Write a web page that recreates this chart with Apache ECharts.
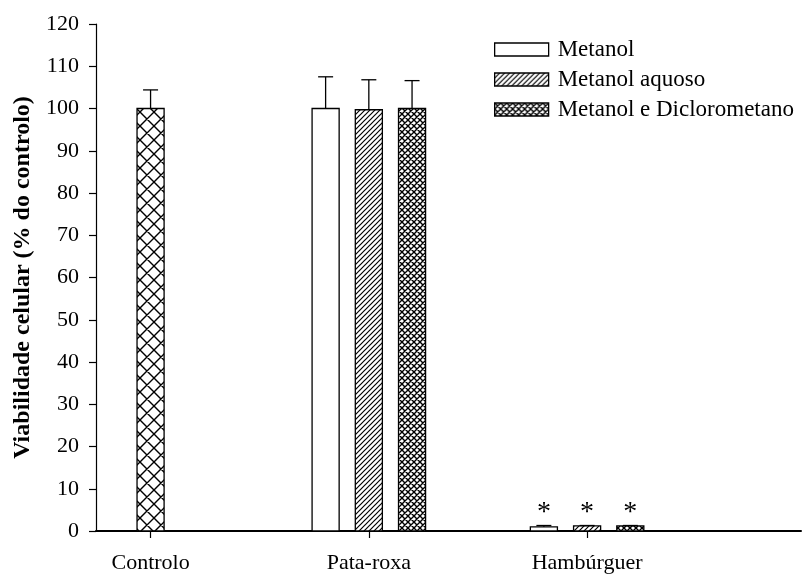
<!DOCTYPE html>
<html>
<head>
<meta charset="utf-8">
<script src="https://cdn.jsdelivr.net/npm/echarts@6/dist/echarts.min.js"></script>
<style>
  html, body { margin: 0; padding: 0; background: #fff; }
  #chart { width: 803px; height: 576px; }
</style>
</head>
<body>
<div id="chart"></div>
<script>
// Cell viability data (% of control)
const categories = ['Controlo', 'Pata-roxa', 'Hambúrguer'];
const seriesNames = ['Metanol', 'Metanol aquoso', 'Metanol e Diclorometano'];

const controlo = [100, null, null];
const controloErr = [4.4, null, null];

const metanol = [null, 100, 1.0];
const metanolErr = [null, 7.5, 0.3];

const metanolAquoso = [null, 99.7, 1.2];
const metanolAquosoErr = [null, 7.1, 0.1];

const metanolDicloro = [null, 100, 1.2];
const metanolDicloroErr = [null, 6.6, 0.1];

const significance = ['', '', '*'];

const yTicks = { min: 0, max: 120, interval: 10 };

const FONT = '"Liberation Serif", "Times New Roman", serif';

// Hatch fills drawn on small tiles
function tile(size, lineWidth, draw) {
  const c = document.createElement('canvas');
  c.width = size; c.height = size;
  const g = c.getContext('2d');
  g.fillStyle = '#fff';
  g.fillRect(0, 0, size, size);
  g.strokeStyle = '#000';
  g.lineWidth = lineWidth;
  g.beginPath();
  draw(g, size);
  g.stroke();
  return { image: c, repeat: 'repeat' };
}
function forward(g, s) {
  // lines x + y = 0, s, 2s
  g.moveTo(-1, 1); g.lineTo(1, -1);
  g.moveTo(0, s); g.lineTo(s, 0);
  g.moveTo(s - 1, s + 1); g.lineTo(s + 1, s - 1);
}
function backward(g, s) {
  g.moveTo(-1, -1); g.lineTo(s + 1, s + 1);
  g.moveTo(s - 1, -1); g.lineTo(s + 1, 1);
  g.moveTo(-1, s - 1); g.lineTo(1, s + 1);
}
const fillPlain = '#ffffff';
const fillDiag = tile(5, 1.2, forward);
const fillCrossFine = tile(6, 1.4, (g, s) => { forward(g, s); backward(g, s); });
const fillCrossWide = tile(14, 1.4, (g, s) => { forward(g, s); backward(g, s); });

function rows(values, errs) {
  return values
    .map((v, i) => (v == null ? null : [i, v, errs[i] || 0, significance[i]]))
    .filter(Boolean);
}

function makeRender(slot, fill) {
  return function (params, api) {
    const cat = api.value(0);
    const val = api.value(1);
    const err = api.value(2);
    const mark = api.value(3);
    const unit = api.size([1, 0])[0];
    const base = api.coord([cat, 0]);
    const cx = base[0] + slot * 0.198 * unit;
    const w = 0.124 * unit;
    const top = api.coord([cat, val])[1];
    const errTop = api.coord([cat, val + err])[1];
    const children = [
      {
        type: 'rect',
        shape: { x: cx - w / 2, y: top, width: w, height: base[1] - top },
        style: { fill: fill, stroke: '#000', lineWidth: 1.3 }
      }
    ];
    if (err > 0) {
      children.push({
        type: 'line',
        shape: { x1: cx, y1: top, x2: cx, y2: errTop },
        style: { stroke: '#000', lineWidth: 1.3 }
      });
      children.push({
        type: 'line',
        shape: { x1: cx - 7.5, y1: errTop, x2: cx + 7.5, y2: errTop },
        style: { stroke: '#000', lineWidth: 1.3 }
      });
    }
    if (mark) {
      children.push({
        type: 'text',
        style: {
          text: String(mark),
          x: cx,
          y: errTop + 1,
          align: 'center',
          verticalAlign: 'bottom',
          textAlign: 'center',
          textVerticalAlign: 'bottom',
          font: '28px ' + FONT,
          fill: '#000'
        }
      });
    }
    return { type: 'group', children: children };
  };
}

function barSeries(name, slot, fill, values, errs) {
  return {
    name: name,
    type: 'custom',
    renderItem: makeRender(slot, fill),
    itemStyle: { color: fill, borderColor: '#000', borderWidth: 1.3 },
    encode: { x: 0, y: 1 },
    data: rows(values, errs),
    silent: true,
    animation: false
  };
}

const chart = echarts.init(document.getElementById('chart'), null, { renderer: 'canvas' });

chart.setOption({
  backgroundColor: '#fff',
  animation: false,
  grid: { left: 96, right: 2, top: 24, bottom: 45, containLabel: false },
  legend: {
    orient: 'vertical',
    left: 489,
    top: 32,
    icon: 'rect',
    itemWidth: 54,
    itemHeight: 13,
    itemGap: 5,
    selectedMode: false,
    textStyle: { fontFamily: FONT, fontSize: 23, color: '#000', lineHeight: 25, padding: [0, 0, 0, 4] },
    data: [
      { name: seriesNames[0], itemStyle: { color: fillPlain, borderColor: '#000', borderWidth: 1.3 } },
      { name: seriesNames[1], itemStyle: { color: fillDiag, borderColor: '#000', borderWidth: 1.3 } },
      { name: seriesNames[2], itemStyle: { color: fillCrossFine, borderColor: '#000', borderWidth: 1.3 } }
    ]
  },
  xAxis: {
    type: 'value',
    min: -0.25,
    max: 2.98,
    splitLine: { show: false },
    axisLine: { show: true, onZero: false, lineStyle: { color: '#000', width: 2 } },
    axisTick: { show: true, customValues: [0, 1, 2], length: 7, lineStyle: { color: '#000', width: 1.2 } },
    axisLabel: {
      customValues: [0, 1, 2],
      formatter: (v) => categories[Math.round(v)] || '',
      margin: 21,
      fontFamily: FONT,
      fontSize: 22,
      color: '#000'
    }
  },
  yAxis: {
    type: 'value',
    min: yTicks.min,
    max: yTicks.max,
    interval: yTicks.interval,
    name: 'Viabilidade celular (% do controlo)',
    nameLocation: 'middle',
    nameGap: 58,
    nameTextStyle: { fontFamily: FONT, fontSize: 24, fontWeight: 'bold', color: '#000' },
    splitLine: { show: false },
    axisLine: { show: true, onZero: false, lineStyle: { color: '#000', width: 1.2 } },
    axisTick: { show: true, length: 7, lineStyle: { color: '#000', width: 1.2 } },
    axisLabel: { margin: 17, fontFamily: FONT, fontSize: 22, color: '#000' }
  },
  series: [
    barSeries('Controlo', 0, fillCrossWide, controlo, controloErr),
    barSeries(seriesNames[0], -1, fillPlain, metanol, metanolErr),
    barSeries(seriesNames[1], 0, fillDiag, metanolAquoso, metanolAquosoErr),
    barSeries(seriesNames[2], 1, fillCrossFine, metanolDicloro, metanolDicloroErr)
  ]
});
</script>
</body>
</html>
